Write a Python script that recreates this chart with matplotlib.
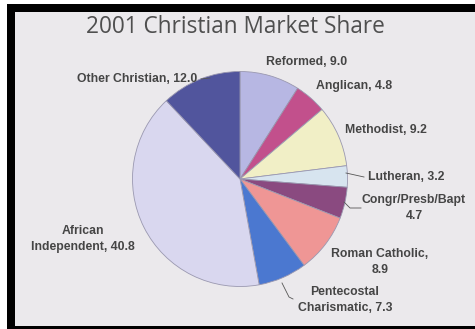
import matplotlib.pyplot as plt
from matplotlib.patches import Rectangle

# data, clockwise from 12 o'clock
labels = ['Reformed', 'Anglican', 'Methodist', 'Lutheran', 'Congr/Presb/Bapt',
          'Roman Catholic', 'Pentecostal Charismatic', 'African Independent', 'Other Christian']
shares = [9.0, 4.8, 9.2, 3.2, 4.7, 8.9, 7.3, 40.8, 12.0]
colors = ['#b7b7e3', '#c2508c', '#f1efc6', '#d7e4ef', '#8a4a80',
          '#ef9695', '#4b78d0', '#d9d7ef', '#51559d']
label_text = ['Reformed, 9.0', 'Anglican, 4.8', 'Methodist, 9.2', 'Lutheran, 3.2',
              'Congr/Presb/Bapt\n4.7', 'Roman Catholic,\n8.9', 'Pentecostal\nCharismatic, 7.3',
              'African\nIndependent, 40.8', 'Other Christian, 12.0']
# label centre points (pixel coords, y from top)
label_pos = [(307, 62), (354, 86), (386, 130), (406, 177), (414, 208),
             (380, 262), (345, 300), (83, 239), (137, 79)]

W, H = 475, 329
fig = plt.figure(figsize=(W / 100, H / 100), dpi=100)
fig.patch.set_facecolor('white')
ax = fig.add_axes([0, 0, 1, 1])

# photo frame: black border + grey slide
ax.add_patch(Rectangle((7, 0), W - 7, H - 4, facecolor='black', edgecolor='none'))
ax.add_patch(Rectangle((15, 3), W - 15, H - 15, facecolor='#ebe9ec', edgecolor='none'))

ax.text(235, H - 27, '2001 Christian Market Share', ha='center', va='center',
        fontsize=16.3, color='#4f4f4f', family='Open Sans')

cx, cy, r = 240, H - 179, 107.5
ax.pie(shares, colors=colors, startangle=90, counterclock=False,
       center=(cx, cy), radius=r, frame=True,
       wedgeprops=dict(edgecolor='#9a98b0', linewidth=0.6))
ax.set_xlim(0, W)
ax.set_ylim(0, H)
ax.set_aspect('auto')
ax.axis('off')

for txt, (x, y) in zip(label_text, label_pos):
    ax.text(x, H - y, txt, ha='center', va='center', fontsize=8.8,
            fontweight='bold', color='#454545', family='Liberation Sans',
            linespacing=1.4)

# leader lines
lc = dict(color='#555555', linewidth=0.6)
ax.plot([201, 210], [H - 79, H - 78], **lc)
ax.plot([346, 364], [H - 173, H - 177], **lc)
ax.plot([344, 350, 361], [H - 202, H - 208, H - 208], **lc)
ax.plot([282, 289, 293], [H - 283, H - 297, H - 299], **lc)

fig.savefig('out.png', dpi=100, facecolor=fig.get_facecolor())
